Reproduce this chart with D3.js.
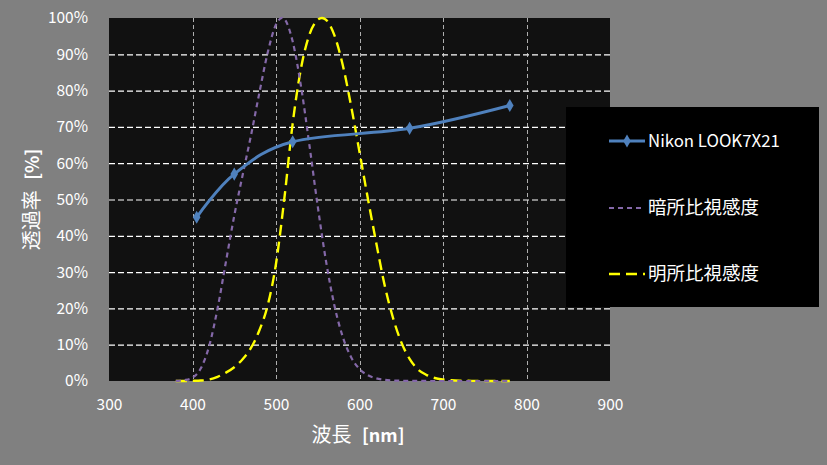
<!DOCTYPE html>
<html><head><meta charset="utf-8">
<script src="https://cdn.jsdelivr.net/npm/d3@7"></script>
<style>
html,body{margin:0;padding:0;background:#808080;}
svg{display:block;}
text{font-family:"Noto Sans CJK JP","Noto Sans",sans-serif;fill:#ffffff;}
</style></head>
<body>
<svg id="c" width="827" height="465"></svg>
<script>
// ---- data ----
const nikonWl = [405, 450, 520, 660, 780];
const nikonT  = [45.1, 57.0, 65.9, 69.6, 75.9];

const specWl = [380,390,400,410,420,430,440,450,460,470,480,490,500,510,520,530,540,550,560,570,580,590,600,610,620,630,640,650,660,670,680,690,700,710,720,730,740,750,760,770,780];
const scotopic = [0.000589,0.002209,0.00929,0.03484,0.0966,0.1998,0.3281,0.455,0.567,0.676,0.793,0.904,0.982,0.997,0.935,0.811,0.65,0.481,0.3288,0.2076,0.1212,0.0655,0.03315,0.01593,0.00737,0.003335,0.001497,0.000677,0.000313,0.000148,0.0000715,0.0000353,0.0000178,0.0000091,0.0000048,0.0000025,0.0000014,0.0000008,0.0000004,0.0000002,0.0000001];
const photopic = [0.00004,0.00012,0.0004,0.0012,0.004,0.0116,0.023,0.038,0.06,0.091,0.139,0.208,0.323,0.503,0.71,0.862,0.954,0.995,0.995,0.952,0.87,0.757,0.631,0.503,0.381,0.265,0.175,0.107,0.061,0.032,0.017,0.0082,0.0041,0.0021,0.001,0.00052,0.00025,0.00012,0.00006,0.00003,0.000015];

const xTicks = [300,400,500,600,700,800,900];
const yTicks = [0,10,20,30,40,50,60,70,80,90,100];
const seriesNames = ["Nikon LOOK7X21","暗所比視感度","明所比視感度"];

// ---- layout ----
const svg = d3.select("#c");
const L = 109, R = 610, T = 18, B = 381;
const x = d3.scaleLinear().domain([300,900]).range([L,R]);
const y = d3.scaleLinear().domain([0,100]).range([B,T]);

svg.append("rect").attr("width",827).attr("height",465).attr("fill","#808080");
svg.append("rect").attr("x",L).attr("y",T).attr("width",R-L).attr("height",B-T).attr("fill","#111111");

// grid
const g = svg.append("g");
g.selectAll(".hg").data(yTicks.filter(d=>d>0&&d<100)).enter().append("line")
  .attr("x1",L).attr("x2",R).attr("y1",d=>y(d)+0.5).attr("y2",d=>y(d)+0.5)
  .attr("stroke","#ffffff").attr("stroke-width",1.2).attr("stroke-dasharray","6,3");
g.selectAll(".vg").data(xTicks.filter(d=>d>300&&d<900)).enter().append("line")
  .attr("y1",T).attr("y2",B).attr("x1",d=>Math.round(x(d))+0.5).attr("x2",d=>Math.round(x(d))+0.5)
  .attr("stroke","#d8d8d8").attr("stroke-width",0.8).attr("stroke-dasharray","4,3");

// axes labels via d3 axes
const yAxis = svg.append("g").attr("transform",`translate(${L-18},0)`)
  .call(d3.axisLeft(y).tickValues(yTicks).tickFormat(d=>d+"%").tickSize(0));
yAxis.select(".domain").remove();
yAxis.selectAll("text").attr("font-size",15.5).attr("fill","#fff").attr("dx",0);

const xAxis = svg.append("g").attr("transform",`translate(0,${B+15})`)
  .call(d3.axisBottom(x).tickValues(xTicks).tickFormat(d3.format("d")).tickSize(0));
xAxis.select(".domain").remove();
xAxis.selectAll("text").attr("font-size",15.5).attr("fill","#fff");

// axis titles
const xt = svg.append("text").attr("x",358).attr("y",442).attr("text-anchor","middle");
xt.append("tspan").attr("font-size",20).text("波長 ");
xt.append("tspan").attr("font-size",18).attr("font-weight","bold").attr("dx",6).text("[nm]");
const yt = svg.append("text").attr("transform",`translate(39,${(T+B)/2}) rotate(-90)`).attr("text-anchor","middle");
yt.append("tspan").attr("font-size",20).text("透過率 ");
yt.append("tspan").attr("font-size",18).attr("font-weight","bold").attr("dx",6).text("[%]");

// lines
const plot = svg.append("g");
const lineSpec = d3.line().x(d=>x(d[0])).y(d=>y(d[1]*100)).curve(d3.curveCardinal.tension(0));
plot.append("path").datum(specWl.map((w,i)=>[w,photopic[i]]))
  .attr("d",lineSpec).attr("fill","none").attr("stroke","#FFFF00").attr("stroke-width",2.4).attr("stroke-dasharray","11,6");
plot.append("path").datum(specWl.map((w,i)=>[w,scotopic[i]]))
  .attr("d",lineSpec).attr("fill","none").attr("stroke","#8468A8").attr("stroke-width",2.2).attr("stroke-dasharray","5,4");

const lineN = d3.line().x(d=>x(d[0])).y(d=>y(d[1])).curve(d3.curveCardinal.tension(0));
const nData = nikonWl.map((w,i)=>[w,nikonT[i]]);
plot.append("path").datum(nData).attr("d",lineN).attr("fill","none").attr("stroke","#4F81BD").attr("stroke-width",3);
const diamond = d3.symbol().type(d3.symbolDiamond).size(50);
plot.selectAll(".mk").data(nData).enter().append("path")
  .attr("d",diamond).attr("transform",d=>`translate(${x(d[0])},${y(d[1])})`)
  .attr("fill","#4F81BD");

// legend
const lg = svg.append("g");
lg.append("rect").attr("x",566).attr("y",107).attr("width",253).attr("height",200).attr("fill","#000000");
const rows = [141,208,274];
lg.append("line").attr("x1",609).attr("x2",645).attr("y1",rows[0]).attr("y2",rows[0]).attr("stroke","#4F81BD").attr("stroke-width",3);
lg.append("path").attr("d",diamond).attr("transform",`translate(627,${rows[0]})`).attr("fill","#4F81BD");
lg.append("line").attr("x1",609).attr("x2",645).attr("y1",rows[1]).attr("y2",rows[1]).attr("stroke","#8468A8").attr("stroke-width",2.2).attr("stroke-dasharray","5,4");
lg.append("line").attr("x1",609).attr("x2",645).attr("y1",rows[2]).attr("y2",rows[2]).attr("stroke","#FFFF00").attr("stroke-width",2.4).attr("stroke-dasharray","11,6");
lg.selectAll(".lt").data(seriesNames).enter().append("text")
  .attr("x",648).attr("y",(d,i)=>rows[i]).attr("dy","0.35em")
  .attr("font-size",(d,i)=>i===0?16.8:18.5).text(d=>d);
</script>
</body></html>
